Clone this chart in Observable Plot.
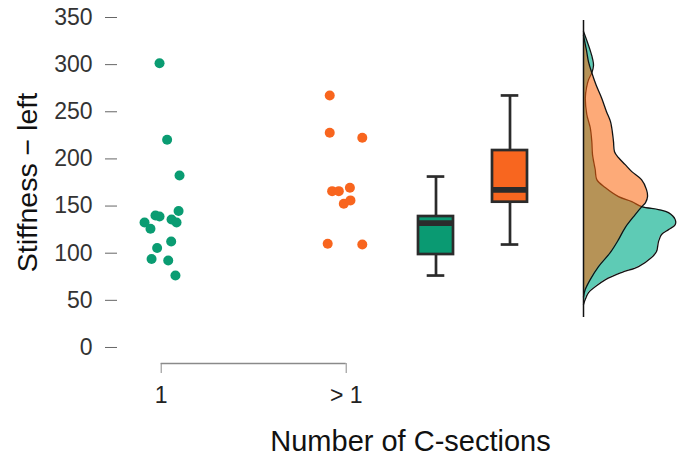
<!DOCTYPE html>
<html><head><meta charset="utf-8">
<script src="https://cdn.jsdelivr.net/npm/d3@7"></script>
<script src="https://cdn.jsdelivr.net/npm/@observablehq/plot@0.6"></script>
<style>body{margin:0;background:#fff} svg{display:block}</style>
</head><body><div id="chart"></div>
<script>
// ---- data ----
const groupLabels = ["1", "> 1"];
const xTitle = "Number of C-sections";
const yTitle = "Stiffness \u2212 left";
const yTicks = [0, 50, 100, 150, 200, 250, 300, 350];

// raw observations (stiffness) and their horizontal jitter (in group units)
const stiffness1 = [301.5, 220.3, 182.4, 144.8, 140, 139, 135.7, 132.5, 132.5, 126, 112.4, 105.5, 93.8, 92.3, 76.4];
const jitter1    = [-0.009, 0.032, 0.099, 0.094, -0.031, -0.009, 0.056, -0.090, 0.083, -0.058, 0.054, -0.022, -0.052, 0.038, 0.077];
const stiffness2 = [267.2, 227.7, 222.4, 165.8, 165.8, 169.4, 152.4, 156, 110, 109.2];
const jitter2    = [-0.089, -0.089, 0.087, -0.076, -0.040, 0.020, -0.013, 0.023, -0.100, 0.087];

// box-plot summaries
const whiskerLow  = [76.3, 109.2];
const quartile1   = [98.6, 154.1];
const medians     = [131.8, 167.2];
const quartile3   = [138.9, 208.9];
const whiskerHigh = [181.3, 267.3];

// half-violin density outlines (stiffness level, density width)
const densLevels1 = [335.1, 325.6, 315, 306.5, 299, 291.4, 283.9, 275.7, 264.9, 246.9, 233.1, 218.3, 204.5, 188.6, 178, 169.6, 160, 154.7, 149.4, 146.2, 143, 135.6, 130.3, 125, 119.8, 112.3, 101.7, 95.4, 85.8, 79.5, 72, 64.6, 58.2, 50.8, 45.5];
const densWidth1  = [0, 3.3, 6.7, 9, 10, 8.3, 5, 3, 1.8, 3.3, 6.7, 8.3, 9, 11.7, 13.3, 21.7, 35, 48.3, 58.3, 75, 85, 91.7, 91.7, 85, 78, 75, 73, 68, 55, 38, 22, 12, 5, 1.7, 0];
const densLevels2 = [330.9, 315, 303, 291.4, 278.7, 264.9, 250.1, 239.5, 231, 218.3, 207.7, 201.3, 193.9, 186.5, 178, 167.4, 160, 153.6, 149.4, 140.9, 127.2, 114.4, 100.6, 85.8, 72, 61.4, 53.6];
const densWidth2  = [0, 3, 5, 8.3, 12.5, 18, 23, 27, 28.5, 30, 31, 35, 41.7, 48.3, 58, 63, 64, 62, 58.3, 51.7, 41.7, 35, 26.7, 15, 6.7, 1.7, 0];
const violinRange = [31.8, 346.8];

// ---- layout / style ----
const groupPos = [1, 2];
const boxPos = [2.4854, 2.8854];
const violinBase = 3.2827;
const boxHalf = 0.0946, capHalf = 0.0476;
const densityScale = 1 / 185;
const pointColors = ["#0A9C72", "#F8651E"];
const boxColors = ["#0A9A72", "#F8661F"];
const violinColors = ["#1AB596", "#FC680E"];
const violinOpacity = [0.7, 0.56];
const ink = "#2b2b2b";

const stiffness = [stiffness1, stiffness2];
const jitter = [jitter1, jitter2];
const densLevels = [densLevels1, densLevels2];
const densWidth = [densWidth1, densWidth2];

const marks = [];
// capped x axis line
marks.push(Plot.ruleY([-17], {x1: groupPos[0], x2: groupPos[1], stroke: "#8a8a8a", strokeWidth: 1.3}));
marks.push(Plot.axisX({ticks: groupPos, tickFormat: d => groupLabels[groupPos.indexOf(d)], tickSize: 10, tickPadding: 13, fontSize: 23, stroke: "#8a8a8a", fill: "#222", label: null}));
marks.push(Plot.axisY({ticks: yTicks, tickSize: 12, tickPadding: 13, fontSize: 23, stroke: "#666", fill: "#333", label: null}));

// jittered points
groupLabels.forEach((g, i) => {
  const pts = stiffness[i].map((v, j) => ({x: groupPos[i] + jitter[i][j], v}));
  marks.push(Plot.dot(pts, {x: "x", y: "v", r: 5, fill: pointColors[i], stroke: "none"}));
});

// box plots
groupLabels.forEach((g, i) => {
  const b = [{pos: boxPos[i], lo: whiskerLow[i], q1: quartile1[i], med: medians[i], q3: quartile3[i], hi: whiskerHigh[i]}];
  marks.push(Plot.ruleX(b, {x: "pos", y1: "q3", y2: "hi", stroke: ink, strokeWidth: 2.7}));
  marks.push(Plot.ruleX(b, {x: "pos", y1: "lo", y2: "q1", stroke: ink, strokeWidth: 2.7}));
  marks.push(Plot.ruleY(b, {y: "hi", x1: d => d.pos - capHalf, x2: d => d.pos + capHalf, stroke: ink, strokeWidth: 2.7}));
  marks.push(Plot.ruleY(b, {y: "lo", x1: d => d.pos - capHalf, x2: d => d.pos + capHalf, stroke: ink, strokeWidth: 2.7}));
  marks.push(Plot.rect(b, {x1: d => d.pos - boxHalf, x2: d => d.pos + boxHalf, y1: "q1", y2: "q3", fill: boxColors[i], stroke: ink, strokeWidth: 2.7}));
  marks.push(Plot.ruleY(b, {y: "med", x1: d => d.pos - boxHalf, x2: d => d.pos + boxHalf, stroke: ink, strokeWidth: 5.7}));
});

// half violins
groupLabels.forEach((g, i) => {
  const dens = densLevels[i].map((v, j) => ({v, w: densWidth[i][j]}));
  marks.push(Plot.areaX(dens, {y: "v", x1: violinBase, x2: d => violinBase + d.w * densityScale, curve: "catmull-rom", fill: violinColors[i], fillOpacity: violinOpacity[i]}));
  marks.push(Plot.lineX(dens, {y: "v", x: d => violinBase + d.w * densityScale, curve: "catmull-rom", stroke: "#111", strokeWidth: 1.3}));
});
marks.push(Plot.ruleX([violinBase], {y1: violinRange[0], y2: violinRange[1], stroke: "#111", strokeWidth: 1.5}));

// titles
marks.push(Plot.text([yTitle], {text: d => d, frameAnchor: "left", textAnchor: "middle", lineAnchor: "middle", rotate: -90, dx: -90, dy: -8, fontSize: 28.5, fill: "#111"}));
marks.push(Plot.text([xTitle], {text: d => d, frameAnchor: "bottom", textAnchor: "middle", lineAnchor: "middle", dx: 10.5, dy: 78, fontSize: 29, fill: "#111"}));

const chart = Plot.plot({
  width: 682, height: 470,
  marginLeft: 117, marginRight: 0, marginTop: 17, marginBottom: 107,
  x: {type: "linear", domain: [0.7638, 3.8178], axis: null},
  y: {domain: [-17, 350], axis: null},
  style: {fontFamily: "'Liberation Sans', Arial, sans-serif", background: "#fff", overflow: "visible"},
  marks
});
document.getElementById("chart").appendChild(chart);
</script></body></html>
